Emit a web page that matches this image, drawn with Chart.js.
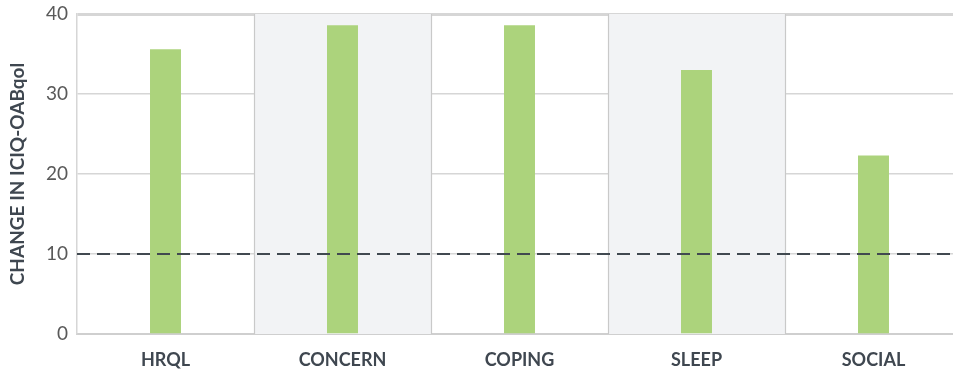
<!DOCTYPE html>
<html>
<head>
<meta charset="utf-8">
<script src="https://cdn.jsdelivr.net/npm/chart.js@4"></script>
<style>
  html, body { margin: 0; padding: 0; background: #fff; overflow: hidden; }
  #wrap { width: 962px; height: 375px; }
</style>
</head>
<body>
<div id="wrap"><canvas id="chart"></canvas></div>
<script>
// data
const categories = ["HRQL", "CONCERN", "COPING", "SLEEP", "SOCIAL"];
const changeValues = [35.6, 38.6, 38.6, 33.0, 22.3];
const shadedCategories = ["CONCERN", "SLEEP"];
const thresholdValue = 10;
const yTicks = [0, 10, 20, 30, 40];

// grey bands behind some columns
const bandPlugin = {
  id: "bands",
  beforeDatasetsDraw(chart) {
    const { ctx, chartArea, scales } = chart;
    const x = scales.x;
    const half = (x.getPixelForValue(1) - x.getPixelForValue(0)) / 2;
    ctx.save();
    shadedCategories.forEach((c) => {
      const i = categories.indexOf(c);
      const cx = x.getPixelForValue(i);
      const left = Math.round(cx - half) + 0.5;
      const right = Math.round(cx + half) + 0.5;
      ctx.fillStyle = "#f2f3f5";
      ctx.fillRect(left, chartArea.top, right - left, chartArea.bottom - chartArea.top);
      ctx.strokeStyle = "#c9c9c9";
      ctx.lineWidth = 1.2;
      ctx.beginPath();
      ctx.moveTo(left, chartArea.top);
      ctx.lineTo(left, chartArea.bottom);
      ctx.moveTo(right, chartArea.top);
      ctx.lineTo(right, chartArea.bottom);
      ctx.stroke();
    });
    ctx.restore();
  }
};

// dashed reference line
const thresholdPlugin = {
  id: "threshold",
  afterDatasetsDraw(chart) {
    const { ctx, chartArea, scales } = chart;
    const y = scales.y.getPixelForValue(thresholdValue);
    ctx.save();
    ctx.strokeStyle = "#414950";
    ctx.lineWidth = 2;
    ctx.setLineDash([13, 7]);
    ctx.beginPath();
    ctx.moveTo(chartArea.left, y);
    ctx.lineTo(chartArea.right, y);
    ctx.stroke();
    ctx.restore();
  }
};

new Chart(document.getElementById("chart"), {
  type: "bar",
  data: {
    labels: categories,
    datasets: [{
      data: changeValues,
      backgroundColor: "#acd37c",
      barPercentage: 0.35,
      categoryPercentage: 0.5
    }]
  },
  options: {
    responsive: true,
    maintainAspectRatio: false,
    animation: false,
    layout: { padding: { top: 14, right: 0, bottom: 0, left: 0 } },
    plugins: { legend: { display: false }, tooltip: { enabled: false } },
    scales: {
      x: {
        grid: { display: false },
        border: { color: "#cfcfcf", width: 2 },
        ticks: {
          color: "#3f4750",
          font: { family: "Lato", size: 18, weight: "bold" },
          padding: 7
        },
        afterFit(scale) { scale.height = 41; }
      },
      y: {
        min: 0,
        max: 40,
        afterBuildTicks(scale) { scale.ticks = yTicks.map((v) => ({ value: v })); },
        grid: {
          color: "#d6d6d6",
          lineWidth: (c) => (c.tick && c.tick.value === 40 ? 3 : 1.5),
          drawTicks: false
        },
        border: { color: "#d6d6d6", width: 1.5 },
        ticks: {
          color: "#595959",
          font: { family: "Lato", size: 19, lineHeight: 0.5 },
          padding: 9
        },
        title: {
          display: true,
          text: "CHANGE IN ICIQ-OABqol",
          color: "#3f4750",
          font: { family: "Lato", size: 19, weight: "bold" },
          padding: { top: 6, bottom: 2 }
        },
        afterFit(scale) { scale.width = 77; }
      }
    }
  },
  plugins: [bandPlugin, thresholdPlugin]
});
</script>
</body>
</html>
